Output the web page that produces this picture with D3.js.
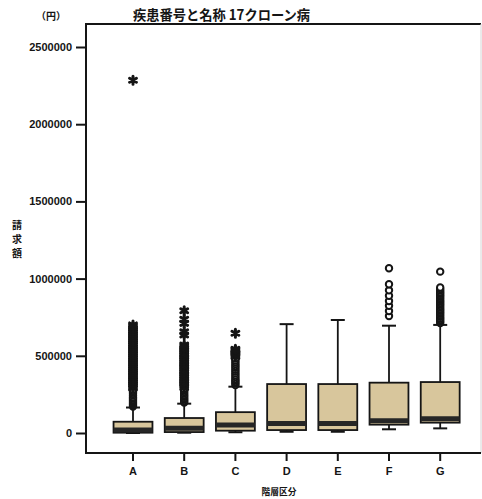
<!DOCTYPE html>
<html>
<head>
<meta charset="utf-8">
<script src="https://cdn.jsdelivr.net/npm/d3@7"></script>
<style>
  html, body { margin: 0; padding: 0; background: #ffffff; }
  svg { display: block; }
</style>
</head>
<body>
<svg id="chart" width="482" height="499"></svg>
<script>
// ---------------- data ----------------
const title = "疾患番号と名称 17クローン病";
const unitLabel = "（円）";
const yLabel = "請求額";
const xLabel = "階層区分";
const categories = ["A", "B", "C", "D", "E", "F", "G"];
const yTicks = [0, 500000, 1000000, 1500000, 2000000, 2500000];

const whiskerLow  = [0,      2000,   5000,   8000,   8000,   24000,  30000];
const q1          = [2000,   6000,   15000,  19000,  19000,  54000,  67000];
const median      = [20000,  30000,  52000,  62000,  62000,  79000,  93000];
const q3          = [73000,  97000,  135000, 317000, 317000, 326000, 330000];
const whiskerHigh = [165000, 190000, 300000, 705000, 732000, 695000, 700000];

// outliers (circles)
const outA = [172000, 180000, 188000, 196000, 205000, 214000, 223000, 232000, 242000, 252000, 262000, 272000, 282000];
const outB = [198000, 207000, 216000, 225000, 235000, 245000, 255000, 265000, 275000, 285000];
const outC = [310000, 320000, 330000, 340000, 350000, 362000, 374000, 386000, 398000, 410000, 422000, 434000, 446000, 458000, 470000, 482000];
const outD = [];
const outE = [];
const outF = [758000, 790000, 824000, 855000, 889000, 924000, 963000, 1067000];
const outG = [712000, 722000, 732000, 742000, 752000, 762000, 772000, 782000, 792000, 802000, 812000, 822000, 832000, 842000, 852000, 862000, 872000, 882000, 892000, 902000, 912000, 922000, 932000, 942000, 1045000];

// extremes (stars)
const extA = [292000, 304000, 316000, 328000, 340000, 352000, 364000, 376000, 388000, 400000, 412000, 424000, 436000, 448000, 460000, 472000, 484000, 496000, 508000, 520000, 532000, 544000, 556000, 568000, 580000, 592000, 604000, 616000, 628000, 640000, 652000, 664000, 676000, 688000, 700000, 2285000];
const extB = [295000, 306000, 317000, 328000, 339000, 350000, 361000, 372000, 383000, 394000, 405000, 416000, 427000, 438000, 449000, 460000, 471000, 482000, 493000, 504000, 515000, 526000, 537000, 548000, 559000, 570000, 635000, 656000, 710000, 737000, 792000];
const extC = [495000, 505000, 515000, 525000, 535000, 542000, 646000];
const extD = [];
const extE = [];
const extF = [];
const extG = [];

const outliers = [outA, outB, outC, outD, outE, outF, outG];
const extremes = [extA, extB, extC, extD, extE, extF, extG];

// ---------------- drawing ----------------
const svg = d3.select("#chart");
const frame = { left: 86, right: 481, top: 24, bottom: 453 };

const x = d3.scaleBand()
  .domain(categories)
  .range([107.4, 465.8])
  .paddingInner(0.24)
  .paddingOuter(0.12);

const y = d3.scaleLinear()
  .domain([0, 2500000])
  .range([433, 47]);

const boxFill = "#d8c69c";
const ink = "#151515";

const stats = categories.map((c, i) => ({
  cat: c,
  lo: whiskerLow[i], q1: q1[i], med: median[i], q3: q3[i], hi: whiskerHigh[i],
  out: outliers[i], ext: extremes[i]
}));

// frame
svg.append("line").attr("x1", frame.left).attr("x2", frame.right)
  .attr("y1", frame.top).attr("y2", frame.top)
  .attr("stroke", ink).attr("stroke-width", 2);
svg.append("line").attr("x1", frame.right).attr("x2", frame.right)
  .attr("y1", frame.top).attr("y2", frame.bottom)
  .attr("stroke", "#d6d6d6").attr("stroke-width", 1);

// y axis
const yAxis = d3.axisLeft(y).tickValues(yTicks).tickSize(10).tickPadding(4)
  .tickFormat(d3.format("d"));
const gy = svg.append("g").attr("transform", `translate(${frame.left},0)`).call(yAxis);
gy.select(".domain").remove();
gy.selectAll(".tick line").attr("stroke", ink).attr("stroke-width", 2);
gy.selectAll(".tick text")
  .attr("fill", ink)
  .style("font-family", "'Liberation Sans', Arial, sans-serif")
  .style("font-size", "11px").style("font-weight", "bold");
svg.append("line").attr("x1", frame.left).attr("x2", frame.left)
  .attr("y1", frame.top - 1).attr("y2", frame.bottom + 1)
  .attr("stroke", ink).attr("stroke-width", 2);

// x axis
const xAxis = d3.axisBottom(x).tickSize(8).tickPadding(6);
const gx = svg.append("g").attr("transform", `translate(0,${frame.bottom})`).call(xAxis);
gx.select(".domain").remove();
gx.selectAll(".tick line").attr("stroke", ink).attr("stroke-width", 2);
gx.selectAll(".tick text")
  .attr("fill", ink)
  .style("font-family", "'Liberation Sans', Arial, sans-serif")
  .style("font-size", "11px").style("font-weight", "bold");
svg.append("line").attr("x1", frame.left).attr("x2", frame.right)
  .attr("y1", frame.bottom).attr("y2", frame.bottom)
  .attr("stroke", ink).attr("stroke-width", 2);

// boxes
const bw = x.bandwidth();
const capW = 14;
const g = svg.append("g");
const groups = g.selectAll("g.box").data(stats).join("g").attr("class", "box")
  .attr("transform", d => `translate(${x(d.cat) + bw / 2},0)`);

// upper whisker
groups.append("line").attr("x1", 0).attr("x2", 0)
  .attr("y1", d => y(d.q3)).attr("y2", d => y(d.hi))
  .attr("stroke", ink).attr("stroke-width", 1.8);
groups.append("line").attr("x1", -capW / 2).attr("x2", capW / 2)
  .attr("y1", d => y(d.hi)).attr("y2", d => y(d.hi))
  .attr("stroke", ink).attr("stroke-width", 2);
// lower whisker
groups.append("line").attr("x1", 0).attr("x2", 0)
  .attr("y1", d => y(d.q1)).attr("y2", d => y(d.lo))
  .attr("stroke", ink).attr("stroke-width", 1.8);
groups.append("line").attr("x1", -capW / 2).attr("x2", capW / 2)
  .attr("y1", d => y(d.lo)).attr("y2", d => y(d.lo))
  .attr("stroke", ink).attr("stroke-width", 2);

// box
groups.append("rect")
  .attr("x", -bw / 2).attr("width", bw)
  .attr("y", d => y(d.q3)).attr("height", d => y(d.q1) - y(d.q3))
  .attr("fill", boxFill).attr("stroke", ink).attr("stroke-width", 1.8);
// median (thick)
groups.append("line")
  .attr("x1", -bw / 2).attr("x2", bw / 2)
  .attr("y1", d => y(d.med)).attr("y2", d => y(d.med))
  .attr("stroke", "#262626").attr("stroke-width", 5);

// outlier circles
groups.selectAll("circle.out").data(d => d.out).join("circle").attr("class", "out")
  .attr("cx", 0).attr("cy", v => y(v)).attr("r", 3.2)
  .attr("fill", "#ffffff").attr("stroke", ink).attr("stroke-width", 2);

// extreme stars
const star = d3.symbol().type(d3.symbolAsterisk).size(44);
groups.selectAll("path.ext").data(d => d.ext).join("path").attr("class", "ext")
  .attr("transform", v => `translate(0,${y(v)})`)
  .attr("d", star)
  .attr("fill", "none").attr("stroke", ink).attr("stroke-width", 3)
  .attr("stroke-linecap", "round");

// texts
svg.append("text").attr("x", 133).attr("y", 20)
  .attr("textLength", 177).attr("lengthAdjust", "spacingAndGlyphs")
  .style("font-family", "'Noto Sans CJK JP', sans-serif")
  .style("font-size", "14px").style("font-weight", "bold")
  .attr("fill", ink).text(title);

svg.append("text").attr("x", 51).attr("y", 20).attr("text-anchor", "middle")
  .style("font-family", "'Noto Sans CJK JP', sans-serif")
  .style("font-size", "10px").style("font-weight", "bold")
  .attr("fill", ink).text(unitLabel);

const yl = svg.append("text")
  .style("font-family", "'Noto Sans CJK JP', sans-serif")
  .style("font-size", "10px").style("font-weight", "bold")
  .attr("fill", ink).attr("text-anchor", "middle");
yl.selectAll("tspan").data(Array.from(yLabel)).join("tspan")
  .attr("x", 17).attr("y", (d, i) => 229 + i * 14).text(d => d);

svg.append("text").attr("x", 279).attr("y", 495).attr("text-anchor", "middle")
  .attr("textLength", 35).attr("lengthAdjust", "spacingAndGlyphs")
  .style("font-family", "'Noto Sans CJK JP', sans-serif")
  .style("font-size", "9px").style("font-weight", "bold")
  .attr("fill", ink).text(xLabel);
</script>
</body>
</html>
